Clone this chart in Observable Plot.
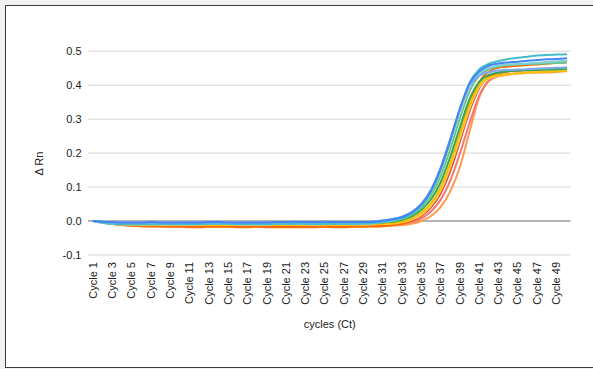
<!DOCTYPE html>
<html><head><meta charset="utf-8">
<script src="https://cdn.jsdelivr.net/npm/d3@7"></script>
<script src="https://cdn.jsdelivr.net/npm/@observablehq/plot@0.6"></script>
<style>
html,body{margin:0;padding:0;background:#f1f1f1;width:593px;height:369px;overflow:hidden}
#frame{position:absolute;left:5px;top:5px;width:640px;height:361px;border:1.5px solid #3c3c3c;background:#fff}
#chart{position:absolute;left:0;top:0}
</style></head><body><div id="frame"></div><div id="chart"></div>
<script>
const cycles = ["Cycle 1","Cycle 2","Cycle 3","Cycle 4","Cycle 5","Cycle 6","Cycle 7","Cycle 8","Cycle 9","Cycle 10",
"Cycle 11","Cycle 12","Cycle 13","Cycle 14","Cycle 15","Cycle 16","Cycle 17","Cycle 18","Cycle 19","Cycle 20",
"Cycle 21","Cycle 22","Cycle 23","Cycle 24","Cycle 25","Cycle 26","Cycle 27","Cycle 28","Cycle 29","Cycle 30",
"Cycle 31","Cycle 32","Cycle 33","Cycle 34","Cycle 35","Cycle 36","Cycle 37","Cycle 38","Cycle 39","Cycle 40",
"Cycle 41","Cycle 42","Cycle 43","Cycle 44","Cycle 45","Cycle 46","Cycle 47","Cycle 48","Cycle 49","Cycle 50"];
const xTickLabels = ["Cycle 1","Cycle 3","Cycle 5","Cycle 7","Cycle 9","Cycle 11","Cycle 13","Cycle 15","Cycle 17","Cycle 19","Cycle 21","Cycle 23","Cycle 25","Cycle 27","Cycle 29","Cycle 31","Cycle 33","Cycle 35","Cycle 37","Cycle 39","Cycle 41","Cycle 43","Cycle 45","Cycle 47","Cycle 49"];
const yTicks = [-0.1, 0, 0.1, 0.2, 0.3, 0.4, 0.5];

const sBlue = [0.000,-0.002,-0.003,-0.004,-0.004,-0.004,-0.003,-0.004,-0.004,-0.004,-0.004,-0.004,-0.003,-0.003,-0.004,-0.004,-0.004,-0.004,-0.004,-0.003,-0.003,-0.002,-0.003,-0.003,-0.002,-0.003,-0.003,-0.003,-0.003,-0.002,
0.001,0.005,0.012,0.025,0.049,0.090,0.155,0.240,0.332,0.406,0.441,0.458,0.464,0.467,0.469,0.472,0.474,0.476,0.477,0.479];
const sLightBlue = [0.000,-0.003,-0.004,-0.005,-0.005,-0.005,-0.004,-0.005,-0.005,-0.005,-0.004,-0.004,-0.004,-0.004,-0.005,-0.005,-0.004,-0.004,-0.004,-0.004,-0.003,-0.003,-0.004,-0.004,-0.003,-0.003,-0.004,-0.004,-0.003,-0.002,
0.002,0.006,0.013,0.027,0.051,0.093,0.158,0.243,0.330,0.398,0.428,0.438,0.443,0.445,0.446,0.447,0.448,0.450,0.451,0.452];
const sTeal = [0.000,-0.005,-0.008,-0.009,-0.009,-0.009,-0.009,-0.009,-0.009,-0.009,-0.009,-0.009,-0.008,-0.008,-0.008,-0.009,-0.009,-0.009,-0.009,-0.008,-0.008,-0.008,-0.008,-0.009,-0.008,-0.008,-0.008,-0.008,-0.007,-0.006,
-0.003,0.002,0.009,0.022,0.046,0.087,0.151,0.237,0.330,0.408,0.447,0.463,0.471,0.477,0.481,0.484,0.487,0.489,0.490,0.491];
const sLightTeal = [0.000,-0.006,-0.009,-0.010,-0.010,-0.010,-0.010,-0.010,-0.010,-0.010,-0.010,-0.010,-0.009,-0.009,-0.009,-0.010,-0.010,-0.010,-0.010,-0.009,-0.009,-0.009,-0.009,-0.010,-0.009,-0.009,-0.009,-0.009,-0.008,-0.007,
-0.003,0.001,0.009,0.022,0.046,0.088,0.152,0.236,0.324,0.399,0.436,0.451,0.458,0.461,0.462,0.464,0.466,0.468,0.470,0.472];
const sLightGreen = [0.000,-0.003,-0.005,-0.006,-0.006,-0.007,-0.007,-0.007,-0.007,-0.007,-0.007,-0.006,-0.006,-0.006,-0.007,-0.007,-0.007,-0.007,-0.006,-0.006,-0.006,-0.006,-0.006,-0.007,-0.006,-0.006,-0.006,-0.006,-0.006,-0.005,
-0.003,0.000,0.007,0.019,0.040,0.076,0.133,0.213,0.303,0.383,0.428,0.447,0.455,0.459,0.461,0.462,0.463,0.464,0.465,0.466];
const sGreen = [0.000,-0.003,-0.005,-0.006,-0.006,-0.006,-0.006,-0.007,-0.007,-0.007,-0.006,-0.006,-0.006,-0.006,-0.006,-0.006,-0.007,-0.007,-0.006,-0.006,-0.005,-0.005,-0.006,-0.006,-0.006,-0.006,-0.006,-0.006,-0.006,-0.005,
-0.004,-0.002,0.004,0.014,0.033,0.064,0.115,0.190,0.277,0.360,0.410,0.430,0.437,0.441,0.443,0.444,0.445,0.446,0.447,0.448];
const sYellow = [0.000,-0.004,-0.007,-0.009,-0.010,-0.010,-0.011,-0.011,-0.011,-0.011,-0.011,-0.011,-0.011,-0.011,-0.011,-0.011,-0.011,-0.011,-0.011,-0.011,-0.011,-0.010,-0.011,-0.011,-0.011,-0.011,-0.011,-0.010,-0.010,-0.009,
-0.008,-0.006,-0.002,0.008,0.025,0.053,0.100,0.172,0.258,0.343,0.400,0.423,0.430,0.433,0.435,0.437,0.438,0.439,0.441,0.443];
const sLightYellow = [0.000,-0.004,-0.007,-0.009,-0.010,-0.011,-0.011,-0.011,-0.012,-0.012,-0.012,-0.012,-0.011,-0.011,-0.012,-0.012,-0.012,-0.012,-0.012,-0.011,-0.011,-0.011,-0.012,-0.012,-0.011,-0.011,-0.011,-0.011,-0.011,-0.010,
-0.009,-0.007,-0.004,0.004,0.019,0.045,0.090,0.160,0.245,0.333,0.395,0.420,0.428,0.432,0.435,0.437,0.439,0.441,0.443,0.445];
const sOrange = [0.000,-0.005,-0.009,-0.012,-0.014,-0.015,-0.016,-0.016,-0.017,-0.017,-0.018,-0.018,-0.017,-0.017,-0.017,-0.018,-0.018,-0.017,-0.018,-0.018,-0.018,-0.018,-0.018,-0.018,-0.017,-0.018,-0.018,-0.017,-0.017,-0.016,
-0.015,-0.012,-0.008,0.002,0.020,0.048,0.094,0.165,0.255,0.345,0.410,0.440,0.452,0.455,0.457,0.459,0.461,0.463,0.466,0.468];
const sRed = [0.000,-0.004,-0.008,-0.010,-0.011,-0.012,-0.013,-0.013,-0.013,-0.013,-0.013,-0.013,-0.013,-0.013,-0.013,-0.013,-0.014,-0.014,-0.013,-0.013,-0.013,-0.013,-0.013,-0.013,-0.013,-0.013,-0.013,-0.013,-0.012,-0.012,
-0.011,-0.009,-0.006,0.001,0.015,0.040,0.082,0.148,0.235,0.325,0.392,0.425,0.437,0.441,0.443,0.444,0.445,0.446,0.447,0.449];
const sSalmon = [0.000,-0.004,-0.008,-0.010,-0.012,-0.013,-0.013,-0.014,-0.014,-0.014,-0.014,-0.014,-0.014,-0.014,-0.014,-0.014,-0.014,-0.014,-0.014,-0.014,-0.014,-0.014,-0.014,-0.014,-0.014,-0.014,-0.014,-0.013,-0.013,-0.013,
-0.012,-0.010,-0.008,-0.003,0.008,0.028,0.063,0.120,0.200,0.290,0.370,0.415,0.432,0.440,0.443,0.446,0.448,0.449,0.450,0.451];
const sLightOrange = [0.000,-0.005,-0.009,-0.012,-0.014,-0.015,-0.015,-0.016,-0.016,-0.016,-0.016,-0.016,-0.016,-0.016,-0.016,-0.017,-0.017,-0.016,-0.016,-0.016,-0.016,-0.016,-0.016,-0.016,-0.016,-0.016,-0.016,-0.016,-0.016,-0.015,
-0.015,-0.014,-0.012,-0.008,0.000,0.015,0.042,0.088,0.160,0.265,0.365,0.412,0.426,0.431,0.434,0.436,0.437,0.437,0.439,0.441];

const seriesNames = ["Light orange","Salmon","Red","Orange","Light yellow","Yellow","Green","Light green","Light teal","Teal","Light blue","Blue"];
const seriesValues = [sLightOrange,sSalmon,sRed,sOrange,sLightYellow,sYellow,sGreen,sLightGreen,sLightTeal,sTeal,sLightBlue,sBlue];
const seriesColors = ["#FF994D","#F07B72","#EA4335","#FF6D01","#FCD04F","#FBBC04","#34A853","#71C287","#7ED1D7","#46BDC6","#7BAAF7","#4285F4"];

const rows = [];
seriesValues.forEach((vals, k) => vals.forEach((v, i) => rows.push({cycle: cycles[i], value: v, name: seriesNames[k]})));

const plot = Plot.plot({
  width: 593, height: 369,
  marginLeft: 88, marginRight: 22.5, marginTop: 50.7, marginBottom: 114.5,
  style: {background: "transparent", fontFamily: "'Liberation Sans', Arial, sans-serif", fontSize: "11px", color: "#222", overflow: "visible"},
  x: {type: "point", domain: cycles, padding: 0.5, label: null},
  y: {domain: [-0.1, 0.5], label: null},
  color: {domain: seriesNames, range: seriesColors},
  marks: [
    Plot.ruleY(yTicks.filter(d => d !== 0), {stroke: "#d6d6d6", strokeWidth: 1}),
    Plot.ruleY([0], {stroke: "#9a9a9a", strokeWidth: 1.5}),
    Plot.axisY({ticks: yTicks, tickSize: 0, tickPadding: 7, tickFormat: d => d.toFixed(1), label: null}),
    Plot.axisX({ticks: xTickLabels, tickSize: 0, tickRotate: -90, tickPadding: 7, label: null}),
    Plot.line(rows, {x: "cycle", y: "value", z: "name", stroke: "name", strokeWidth: 2, curve: "monotone-x"}),
    Plot.text(["cycles (Ct)"], {frameAnchor: "bottom", dy: 73.2, text: d => d}),
    Plot.text(["Δ Rn"], {frameAnchor: "left", dx: -49, dy: 22.4, rotate: -90, text: d => d})
  ]
});
document.getElementById("chart").appendChild(plot);
</script></body></html>
